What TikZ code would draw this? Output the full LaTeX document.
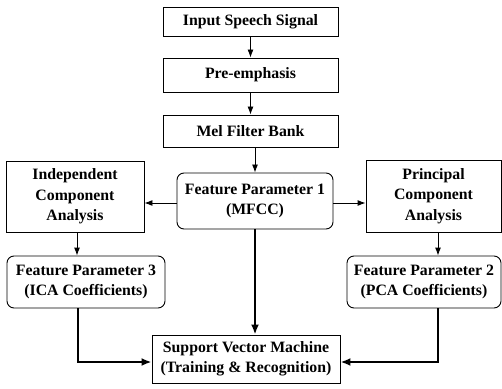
\documentclass[tikz,border=0pt]{standalone}
\usepackage{fontspec}
\setmainfont{Liberation Serif}
\usetikzlibrary{arrows.meta}
\begin{document}
\begin{tikzpicture}[x=1pt,y=1pt,
  box/.style={draw=black, line width=0.9pt, align=center, inner sep=0pt,
    font=\fontsize{15.8}{20.5}\selectfont\bfseries},
  rbox/.style={box, rounded corners=7pt},
  thin/.style={line width=0.9pt, -{Latex[length=8pt,width=6pt]}},
  thick/.style={line width=2pt, -{Latex[length=10pt,width=8pt]}}]
\useasboundingbox (0,0) rectangle (502,388);
\node[box, minimum width=175pt, minimum height=29pt] (input) at (250.5,366.5) {Input Speech Signal};
\node[box, minimum width=175pt, minimum height=34pt] (pre) at (250.5,313) {Pre-emphasis};
\node[box, minimum width=175pt, minimum height=32pt] (mel) at (250.5,257) {Mel Filter Bank};
\node[rbox, minimum width=156pt, minimum height=56pt] (fp1) at (255,187) {Feature Parameter 1\\(MFCC)};
\node[box, minimum width=138pt, minimum height=71pt] (ica) at (75,191.5) {Independent\\Component\\Analysis};
\node[box, minimum width=135pt, minimum height=72pt] (pca) at (433.5,192) {Principal\\Component\\Analysis};
\node[rbox, minimum width=158pt, minimum height=52pt] (fp3) at (86,106) {Feature Parameter 3\\(ICA Coefficients)};
\node[rbox, minimum width=154pt, minimum height=52pt] (fp2) at (424,106) {Feature Parameter 2\\(PCA Coefficients)};
\node[box, minimum width=188pt, minimum height=48pt] (svm) at (246,29) {Support Vector Machine\\(Training \& Recognition)};
\draw[thin] (input) -- (pre);
\draw[thin] (pre) -- (mel);
\draw[thin] (mel.south -| fp1.north) -- (fp1.north);
\draw[thin] ([yshift=-2pt]fp1.west) -- ([yshift=-2pt]fp1.west -| ica.east);
\draw[thin] ([yshift=-2pt]fp1.east) -- ([yshift=-2pt]fp1.east -| pca.west);
\draw[thin] ([xshift=2pt]ica.south) -- ([xshift=2pt]ica.south |- fp3.north);
\draw[thin] ([xshift=4.5pt]pca.south) -- ([xshift=4.5pt]pca.south |- fp2.north);
\draw[thick] (fp1.south) -- (fp1.south |- svm.north);
\draw[thick] ([xshift=-8pt]fp3.south) |- ([yshift=-3pt]svm.west);
\draw[thick] ([xshift=14pt]fp2.south) |- ([yshift=-3pt]svm.east);
\end{tikzpicture}
\end{document}
